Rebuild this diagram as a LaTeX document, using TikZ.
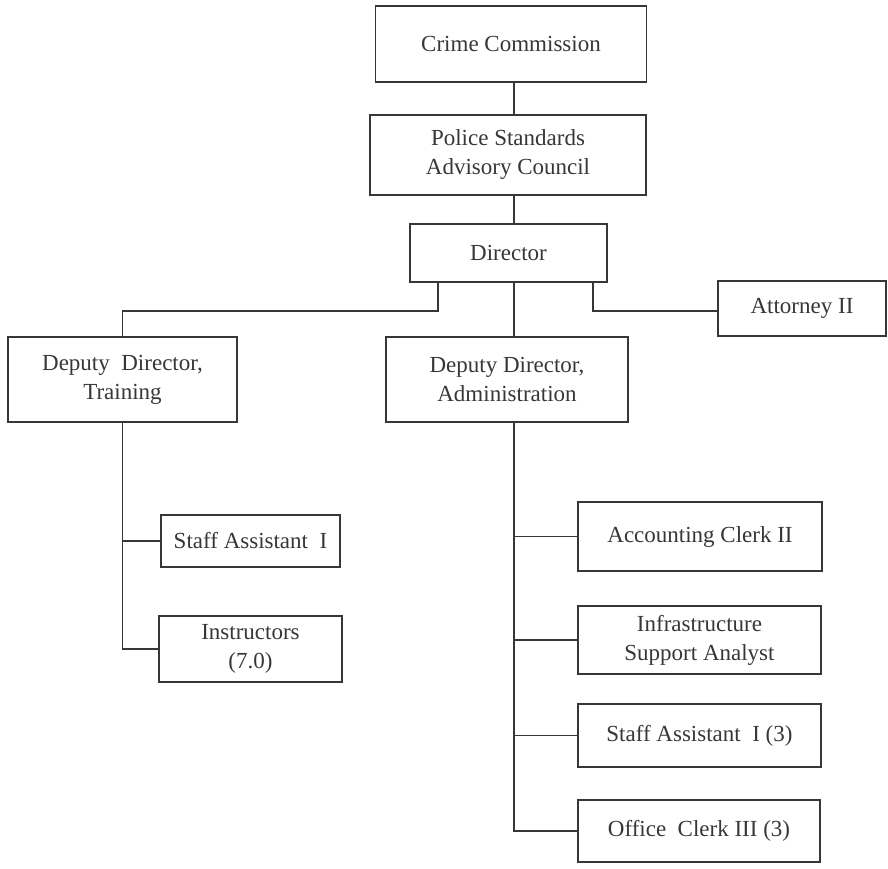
\documentclass[tikz,border=0pt]{standalone}
\usepackage{fontspec}
\setmainfont{Liberation Serif}
\usetikzlibrary{positioning}
\definecolor{inkgray}{RGB}{55,55,55}

\begin{document}
\begin{tikzpicture}[x=1pt, y=-1pt,
    orgbox/.style={rectangle, draw=inkgray, line width=1.5pt, fill=white, align=center, inner sep=0pt, text=inkgray, font=\fontsize{23}{29}\selectfont},
    link/.style={draw=inkgray, line width=1.5pt}
]
\useasboundingbox (0,0) rectangle (888,869);
\node[orgbox, minimum width=271pt, minimum height=76pt] (crime) at (511,44) {Crime Commission};
\node[orgbox, minimum width=276pt, minimum height=80pt] (police) at (508,155) {Police Standards\\Advisory Council};
\node[orgbox, minimum width=197pt, minimum height=58pt] (director) at (508.5,253) {Director};
\node[orgbox, minimum width=168pt, minimum height=55pt] (attorney) at (802,308.5) {Attorney II};
\node[orgbox, minimum width=229pt, minimum height=85pt] (training) at (122.5,379.5) {Deputy\ \ Director,\\Training};
\node[orgbox, minimum width=242pt, minimum height=85pt] (admin) at (507,379.5) {Deputy Director,\\Administration};
\node[orgbox, minimum width=179pt, minimum height=52pt] (staffT) at (250.5,541) {Staff Assistant\ \ I};
\node[orgbox, minimum width=183pt, minimum height=66pt] (instr) at (250.5,649) {Instructors\\(7.0)};
\node[orgbox, minimum width=244pt, minimum height=69pt] (acct) at (700,536.5) {Accounting Clerk II};
\node[orgbox, minimum width=243pt, minimum height=68pt] (infra) at (699.5,640) {Infrastructure\\Support Analyst};
\node[orgbox, minimum width=243pt, minimum height=63pt] (staffA) at (699.5,735.5) {Staff Assistant\ \ I (3)};
\node[orgbox, minimum width=242pt, minimum height=62pt] (office) at (699,831) {Office\ \ Clerk III (3)};
\coordinate (bus) at (514,0);
\coordinate (lleg) at (438,311);
\coordinate (rleg) at (593,311);
\draw[link] (crime.south -| bus) -- (police.north -| bus);
\draw[link] (police.south -| bus) -- (director.north -| bus);
\draw[link] (director.south -| bus) -- (admin.north -| bus);
\draw[link] (director.south -| lleg) -- (lleg) -| (training.north);
\draw[link] (director.south -| rleg) -- (rleg) -- (rleg -| attorney.west);
\draw[link] (training.south) |- (instr.west);
\draw[link] (training.south |- staffT.west) -- (staffT.west);
\draw[link] (admin.south -| bus) |- (office.west);
\foreach \n in {acct, infra, staffA}
    \draw[link] (bus |- \n.west) -- (\n.west);
\end{tikzpicture}
\end{document}
